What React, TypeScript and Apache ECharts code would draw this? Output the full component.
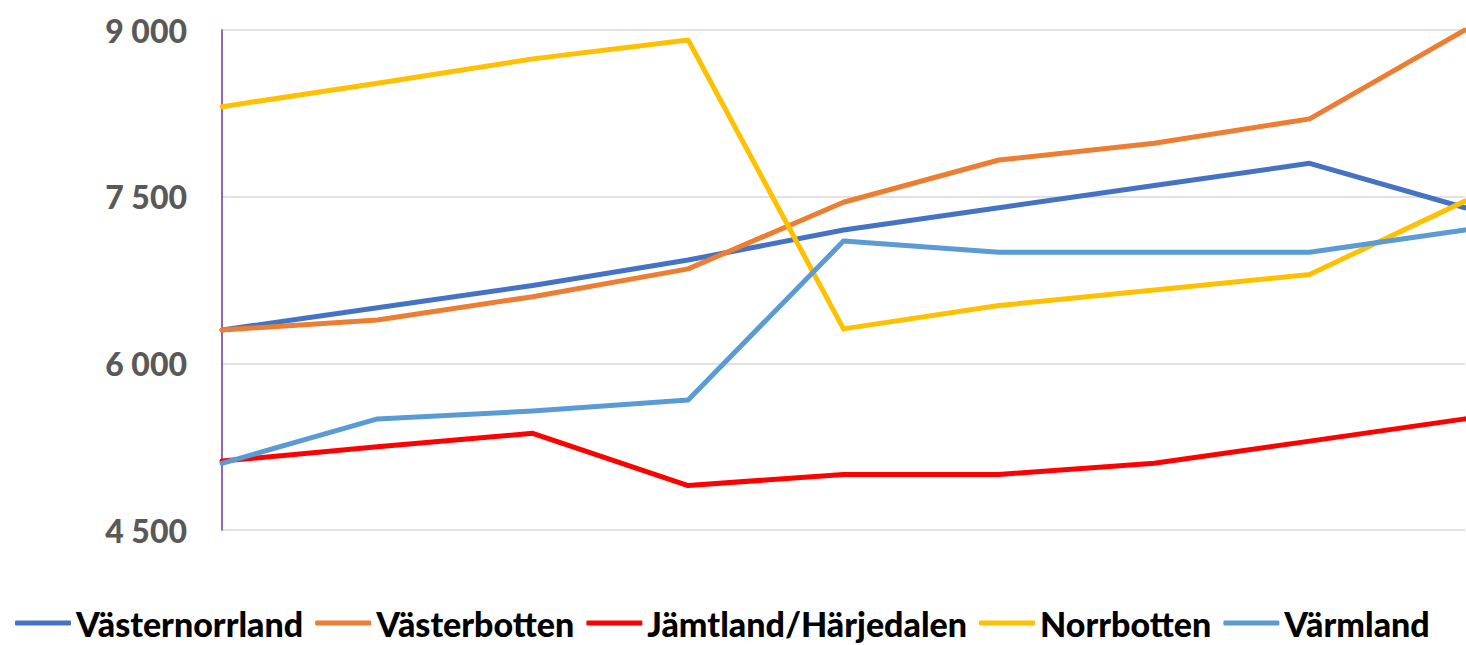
import React, { useEffect, useRef } from "react";
import * as echarts from "echarts";

const categories = ["1", "2", "3", "4", "5", "6", "7", "8", "9"];
const vasternorrland = [6300, 6500, 6700, 6930, 7200, 7400, 7600, 7800, 7400];
const vasterbotten = [6300, 6390, 6600, 6850, 7450, 7830, 7980, 8200, 9000];
const jamtland = [5120, 5250, 5370, 4900, 5000, 5000, 5100, 5300, 5500];
const norrbotten = [8310, 8520, 8740, 8910, 6310, 6520, 6660, 6800, 7460];
const varmland = [5100, 5500, 5570, 5670, 7100, 7000, 7000, 7000, 7200];

const seriesNames = ["Västernorrland", "Västerbotten", "Jämtland/Härjedalen", "Norrbotten", "Värmland"];
const seriesData = [vasternorrland, vasterbotten, jamtland, norrbotten, varmland];
const seriesColors = ["#4472C4", "#ED7D31", "#FF0000", "#FFC000", "#5B9BD5"];

const yMin = 4500;
const yMax = 9000;
const yStep = 1500;

function fmt(v: number): string {
  const s = String(Math.round(v));
  return s.replace(/\B(?=(\d{3})+(?!\d))/g, " ");
}

export default function App() {
  const ref = useRef<HTMLDivElement>(null);
  useEffect(() => {
    if (!ref.current) return;
    const chart = echarts.init(ref.current, undefined, { renderer: "svg" });
    chart.setOption({
      animation: false,
      backgroundColor: "#ffffff",
      grid: { left: 222, right: 1, top: 30, height: 500, containLabel: false },
      legend: {
        data: seriesNames,
        left: 15,
        top: 606,
        padding: 0,
        itemGap: 12,
        itemWidth: 56,
        itemHeight: 5,
        icon: "roundRect",
        textStyle: { fontFamily: "Lato", fontWeight: 900, fontSize: 34, lineHeight: 34, color: "#000000" },
      },
      xAxis: {
        type: "category",
        data: categories,
        boundaryGap: false,
        axisLine: { show: false },
        axisTick: { show: false },
        axisLabel: { show: false },
        splitLine: { show: false },
      },
      yAxis: {
        type: "value",
        min: yMin,
        max: yMax,
        interval: yStep,
        axisLine: { show: true, lineStyle: { color: "#7030A0", width: 1.5 } },
        axisTick: { show: false },
        axisLabel: {
          margin: 35,
          fontFamily: "Lato",
          fontWeight: 900,
          fontSize: 32,
          color: "#595959",
          formatter: (v: number) => fmt(v),
        },
        splitLine: { show: true, lineStyle: { color: "#D9D9D9", width: 1.5 } },
      },
      series: seriesNames.map((name, i) => ({
        name,
        type: "line",
        data: seriesData[i],
        symbol: "none",
        color: seriesColors[i],
        lineStyle: { color: seriesColors[i], width: 5, cap: "round", join: "round" },
      })),
    });
    return () => chart.dispose();
  }, []);
  return (
    <div
      ref={ref}
      style={{ position: "absolute", left: 0, top: 0, width: 1466, height: 645 }}
    />
  );
}
